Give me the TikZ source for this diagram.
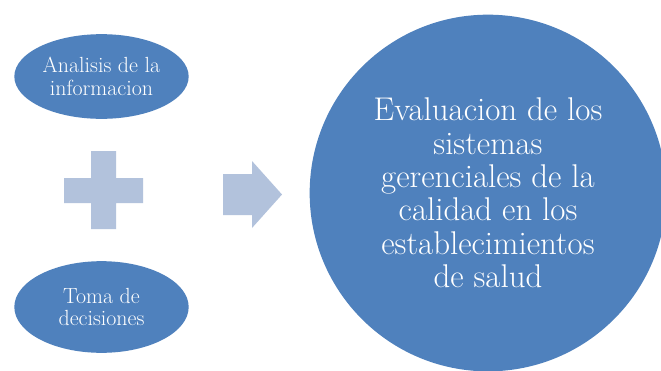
\documentclass[tikz,border=0pt]{standalone}
\usepackage{fontspec}
\usepackage{tikz}
\usetikzlibrary{shapes.geometric}

\definecolor{darkblue}{RGB}{79,129,189}
\definecolor{paleblue}{RGB}{178,194,220}

\tikzset{
  bubble/.style={ellipse,fill=darkblue,text=white,inner sep=0pt,align=center,
    font=\fontsize{22}{22.5}\selectfont},
  bigbubble/.style={circle,fill=darkblue,text=white,inner sep=0pt,align=center,
    minimum size=358,font=\fontsize{33}{33.5}\selectfont}
}

\begin{document}
\begin{tikzpicture}[x=1bp,y=-1bp]
        \clip (0,0) rectangle (661,370);
        \fill[white] (0,0) rectangle (661,370);
        % the two inputs
        \node[bubble,minimum width=175,minimum height=85] (analisis) at (101.5,76.5)
          {Analisis de la\\informacion};
        \node[bubble,minimum width=175,minimum height=92] (toma) at (101.5,307)
          {Toma de\\decisiones};
        % plus sign
        \fill[paleblue] (91,151) -- (116,151) -- (116,178) -- (143,178) -- (143,203)
          -- (116,203) -- (116,229) -- (91,229) -- (91,203) -- (64,203) -- (64,178)
          -- (91,178) -- cycle;
        % block arrow
        \fill[paleblue] (223,174) -- (252,174) -- (252,161) -- (282,194.5)
          -- (252,228) -- (252,215) -- (223,215) -- cycle;
        % result
        \node[bigbubble] (evaluacion) at (488,193)
          {Evaluacion de los\\sistemas\\gerenciales de la\\calidad en los\\establecimientos\\de salud};
      \end{tikzpicture}
\end{document}
